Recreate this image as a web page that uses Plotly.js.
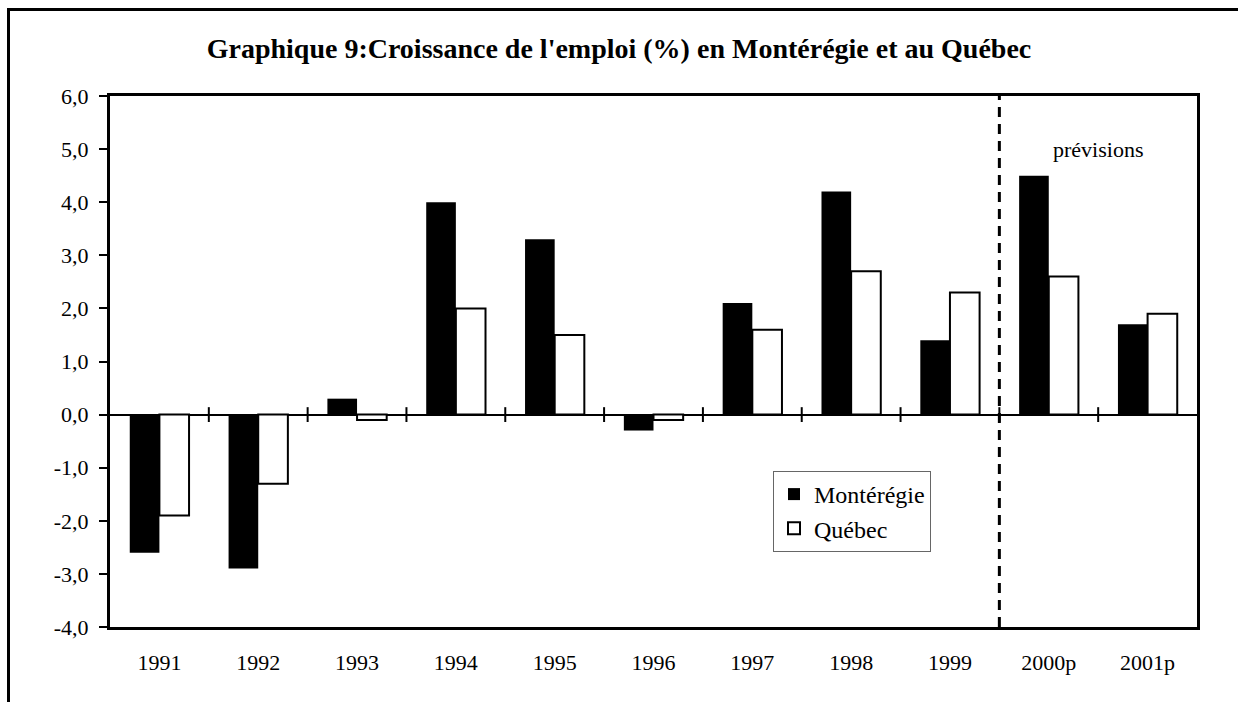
<!DOCTYPE html>
<html>
<head>
<meta charset="utf-8">
<script src="https://cdn.plot.ly/plotly-3.0.1.min.js"></script>
<style>
  html, body { margin: 0; padding: 0; background: #fff; }
  #wrap { position: relative; width: 1238px; height: 702px; overflow: hidden; }
  #chart { position: absolute; left: 0; top: 0; width: 1238px; height: 702px; }
  #frame { position: absolute; left: 7px; top: 8px; width: 1240px; height: 710px;
           border-top: 3px solid #000; border-left: 3px solid #000; pointer-events: none; }
</style>
</head>
<body>
<div id="wrap">
  <div id="chart"></div>
  <div id="frame"></div>
</div>
<script>
// ---- data ----
const categories = ['1991', '1992', '1993', '1994', '1995', '1996', '1997', '1998', '1999', '2000p', '2001p'];
const monteregie = [-2.6, -2.9, 0.3, 4.0, 3.3, -0.3, 2.1, 4.2, 1.4, 4.5, 1.7];
const quebec     = [-1.9, -1.3, -0.1, 2.0, 1.5, -0.1, 1.6, 2.7, 2.3, 2.6, 1.9];
const yTickValues = [-4, -3, -2, -1, 0, 1, 2, 3, 4, 5, 6];
const yTickLabels = yTickValues.map(v => v.toFixed(1).replace('.', ','));
const seriesNames = ['Montérégie', 'Québec'];
const titleText = "Graphique 9:Croissance de l'emploi (%) en Montérégie et au Québec";
const forecastLabel = 'prévisions';
const firstForecast = '2000p';

const FONT = '"Liberation Serif", "Times New Roman", Times, serif';

const traces = [
  {
    type: 'bar', name: seriesNames[0], x: categories, y: monteregie,
    marker: { color: '#000000', line: { color: '#000000', width: 0 } },
    hoverinfo: 'x+y'
  },
  {
    type: 'bar', name: seriesNames[1], x: categories, y: quebec,
    marker: { color: '#ffffff', line: { color: '#000000', width: 2 } },
    hoverinfo: 'x+y'
  }
];

// tick marks crossing the zero line at category boundaries
const shapes = [];
for (let i = 0; i < categories.length - 1; i++) {
  shapes.push({
    type: 'line', xref: 'x', yref: 'y', x0: i + 0.5, x1: i + 0.5, y0: -0.14, y1: 0.14,
    line: { color: '#000', width: 2 }, layer: 'above'
  });
}
// forecast separator
const sepX = categories.indexOf(firstForecast) - 0.5;
shapes.push({
  type: 'line', xref: 'x', yref: 'paper', x0: sepX, x1: sepX, y0: 0, y1: 1,
  line: { color: '#000', width: 3, dash: '10px,7px' }, layer: 'above'
});

const layout = {
  width: 1238, height: 702,
  margin: { l: 110, r: 41, t: 96, b: 75 },
  paper_bgcolor: '#ffffff', plot_bgcolor: '#ffffff',
  font: { family: FONT, color: '#000', size: 22 },
  title: {
    text: '<b>' + titleText + '</b>',
    font: { family: FONT, size: 28, color: '#000' },
    xref: 'container', x: 0.5, xanchor: 'center',
    yref: 'container', y: 1 - 48 / 702, yanchor: 'middle'
  },
  barmode: 'group', bargap: 0.4, bargroupgap: 0,
  showlegend: true,
  legend: {
    x: (773 - 110) / 1087, y: (627 - 471) / 531, xanchor: 'left', yanchor: 'top',
    bgcolor: '#ffffff', bordercolor: '#666666', borderwidth: 1,
    font: { family: FONT, size: 24, color: '#000' },
    itemwidth: 30, tracegroupgap: 0
  },
  xaxis: {
    type: 'category', categoryorder: 'array', categoryarray: categories,
    showline: true, mirror: true, linecolor: '#000', linewidth: 3,
    ticks: '', showgrid: false, zeroline: false,
    tickfont: { family: FONT, size: 22, color: '#000' },
    ticklabelstandoff: 14
  },
  yaxis: {
    range: [-4, 6], tickmode: 'array', tickvals: yTickValues, ticktext: yTickLabels,
    ticks: 'outside', ticklen: 8, tickwidth: 2, tickcolor: '#000',
    showline: true, mirror: true, linecolor: '#000', linewidth: 3,
    showgrid: false, zeroline: true, zerolinecolor: '#000', zerolinewidth: 2,
    tickfont: { family: FONT, size: 22, color: '#000' },
    ticklabelstandoff: 6
  },
  shapes: shapes,
  annotations: [{
    xref: 'x', yref: 'y', x: sepX + 1, y: 5.0, text: forecastLabel, showarrow: false,
    font: { family: FONT, size: 22, color: '#000' }, xanchor: 'center', yanchor: 'middle'
  }]
};

Plotly.newPlot('chart', traces, layout, { displayModeBar: false, staticPlot: true });
</script>
</body>
</html>
